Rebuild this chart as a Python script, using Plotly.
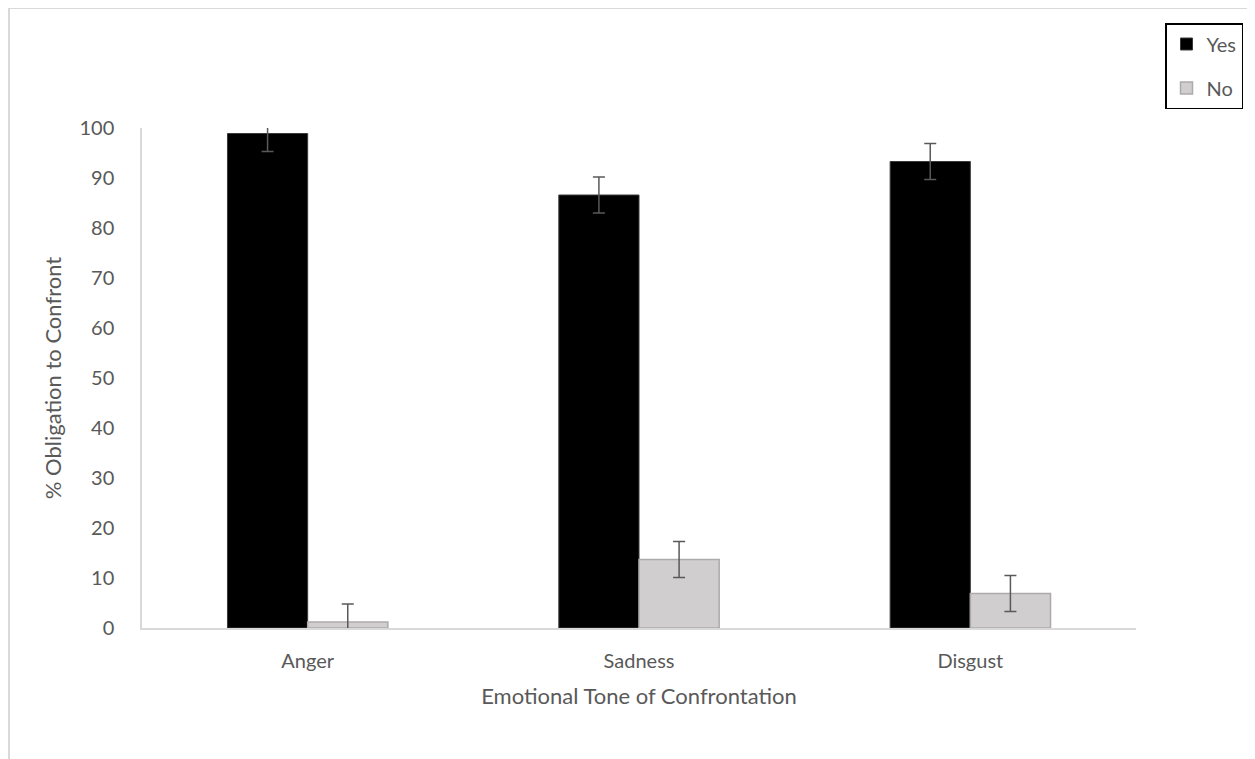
import plotly.graph_objects as go

categories = ["Anger", "Sadness", "Disgust"]
yes_values = [98.9, 86.6, 93.3]
no_values = [1.2, 13.7, 6.9]
yes_errors = [3.6, 3.6, 3.6]
no_errors = [3.6, 3.6, 3.6]

# page is offset by the 8px default body margin
OFF = 8
W, H = 1255, 759
L, R, T, B = 142 - OFF, 1136 - OFF, 128 - OFF, 628 - OFF
pw, ph = R - L, B - T

def px_x(p):
    return (p - OFF - L) / pw

def px_y(p):
    return (B - (p - OFF)) / ph

FONT = "Lato, Open Sans, Arial"
GREY = "#595959"

fig = go.Figure()
fig.add_trace(go.Bar(
    name="Yes", x=categories, y=yes_values, legendgroup="yes",
    marker=dict(color="#000000", line=dict(color="#3a3a3a", width=1)),
    error_y=dict(type="data", array=yes_errors, visible=True,
                 color=GREY, thickness=1.5, width=6),
))
fig.add_trace(go.Bar(
    name="No", x=categories, y=no_values, legendgroup="no",
    marker=dict(color="#d0cece", line=dict(color="#aeaaaa", width=1.5)),
    error_y=dict(type="data", array=no_errors, visible=True,
                 color=GREY, thickness=1.5, width=6),
))

fig.update_layout(
    width=W, height=H,
    margin=dict(l=L, r=W - R, t=T, b=H - B, autoexpand=False),
    paper_bgcolor="white", plot_bgcolor="white",
    barmode="group", bargap=0.516, bargroupgap=0,
    font=dict(family=FONT, size=20, color=GREY),
    showlegend=True,
    legend=dict(
        x=px_x(1165), y=px_y(23), xanchor="left", yanchor="top",
        bordercolor="#000000", borderwidth=1.5, bgcolor="white",
        font=dict(family=FONT, size=20, color=GREY),
        traceorder="grouped", tracegroupgap=15,
        itemwidth=30,
    ),
    xaxis=dict(
        showline=True, linecolor="#d9d9d9", linewidth=1.5,
        showgrid=False, ticks="", ticklabelstandoff=14,
        tickfont=dict(size=20, color=GREY),
        title=dict(text="Emotional Tone of Confrontation",
                   font=dict(size=22, color=GREY), standoff=18),
    ),
    yaxis=dict(
        range=[0, 100], dtick=10, tick0=0,
        showline=True, linecolor="#d9d9d9", linewidth=1.5,
        showgrid=False, zeroline=False, ticks="", ticklabelstandoff=22,
        tickfont=dict(size=20, color=GREY),
        title=dict(text="% Obligation to Confront",
                   font=dict(size=22, color=GREY), standoff=12),
    ),
    shapes=[dict(
        type="rect", xref="paper", yref="paper",
        x0=px_x(9), x1=px_x(1500), y0=px_y(1000), y1=px_y(8),
        line=dict(color="#d9d9d9", width=2), fillcolor="rgba(0,0,0,0)",
        layer="below",
    )],
)

fig.write_html("out.html")
